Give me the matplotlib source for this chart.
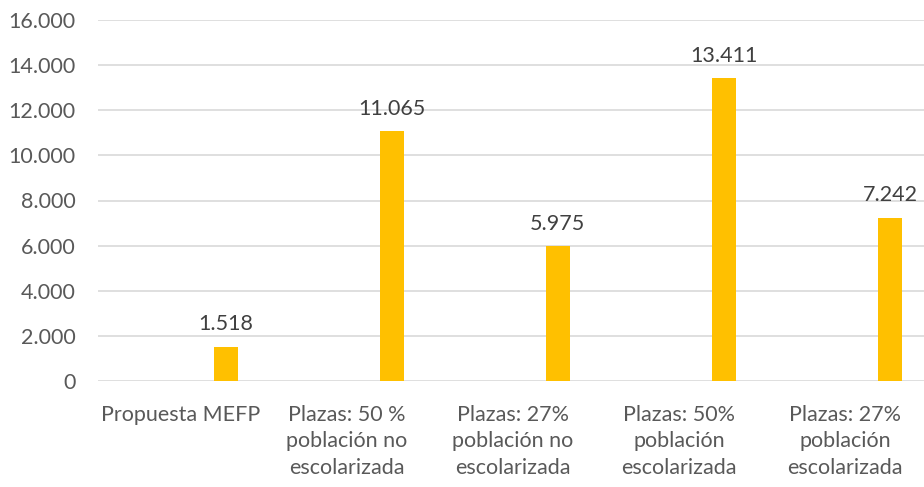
import matplotlib.pyplot as plt
from matplotlib.ticker import FuncFormatter

categorias = ["Propuesta MEFP",
              "Plazas: 50 %\npoblación no\nescolarizada",
              "Plazas: 27%\npoblación no\nescolarizada",
              "Plazas: 50%\npoblación\nescolarizada",
              "Plazas: 27%\npoblación\nescolarizada"]
plazas = [1518, 11065, 5975, 13411, 7242]
y_ticks = [0, 2000, 4000, 6000, 8000, 10000, 12000, 14000, 16000]

def miles(v, pos=None):
    return f"{int(v):,}".replace(",", ".")

plt.rcParams['font.family'] = ['Lato', 'DejaVu Sans']

fig = plt.figure(figsize=(9.24, 4.87), dpi=100)
ax = fig.add_axes([98/924, 106/487, 826/924, 361/487])

x = list(range(len(categorias)))
xb = [i + 0.27 for i in x]   # la serie vacía ocupa la primera mitad
ax.bar(xb, plazas, width=0.145, color='#FFC000', zorder=3)
for xi, v in zip(xb, plazas):
    ax.text(xi, v + 560, miles(v), ha='center', va='bottom', fontsize=15.5, color='#404040')

ax.set_xlim(-0.5, 4.475)
ax.set_ylim(0, 16000)
ax.set_yticks(y_ticks)
ax.yaxis.set_major_formatter(FuncFormatter(miles))
ax.set_xticks(x)
ax.set_xticklabels(categorias, linespacing=1.42)
ax.tick_params(axis='both', length=0, labelsize=15.5, labelcolor='#595959')
ax.tick_params(axis='y', pad=16)
ax.tick_params(axis='x', pad=17)
ax.grid(axis='y', color='#D9D9D9', linewidth=1.2, zorder=0)
for s in ax.spines.values():
    s.set_visible(False)

fig.savefig("out.png", dpi=100)
